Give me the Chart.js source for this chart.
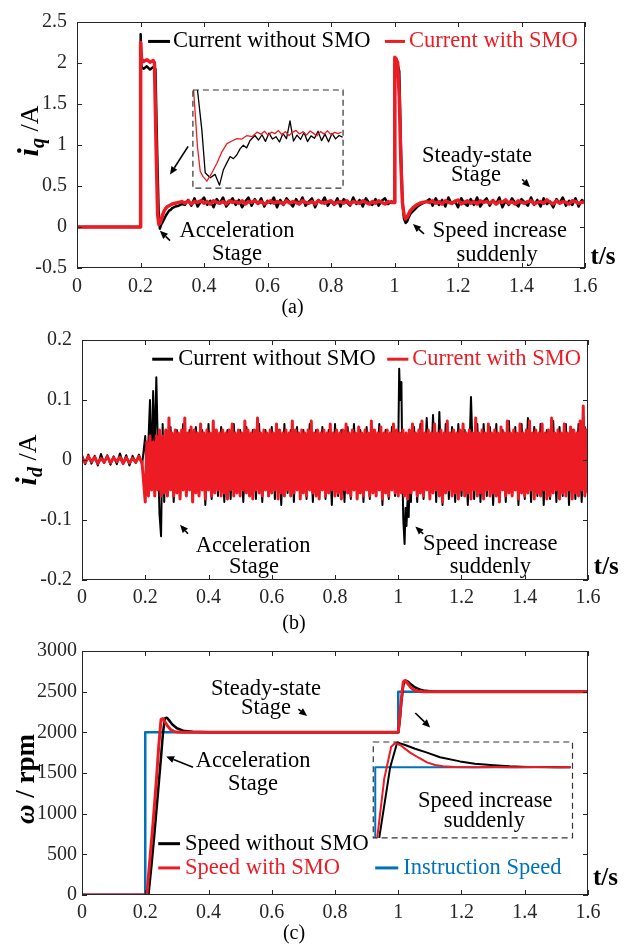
<!DOCTYPE html>
<html>
<head>
<meta charset="utf-8">
<title>iq, id and speed response with and without SMO</title>
<script src="https://cdn.jsdelivr.net/npm/chart.js@4.4.1/dist/chart.umd.min.js"></script>
<style>
  body { margin: 0; background: #fff; }
  #figure { position: relative; width: 627px; height: 944px; }
  canvas { position: absolute; left: 0; display: block; }
</style>
</head>
<body>
<div id="figure">
  <canvas id="iqChart" width="627" height="318" style="top:0"></canvas>
  <canvas id="idChart" width="627" height="316" style="top:318px"></canvas>
  <canvas id="speedChart" width="627" height="310" style="top:634px"></canvas>
</div>
<script>
// ---------- tick labels ----------
const timeTicks = [0, 0.2, 0.4, 0.6, 0.8, 1, 1.2, 1.4, 1.6];
const iqTicks = [-0.5, 0, 0.5, 1, 1.5, 2, 2.5];
const idTicks = [-0.2, -0.1, 0, 0.1, 0.2];
const speedTicks = [0, 500, 1000, 1500, 2000, 2500, 3000];

// ---------- (a) q-axis current ----------
// without SMO
const iqOffStartT = [0, 0.2, 0.2005, 0.203, 0.21, 0.22, 0.23, 0.24, 0.247, 0.252, 0.257, 0.261, 0.265, 0.27, 0.275, 0.28, 0.285, 0.29, 0.295, 0.3, 0.31, 0.32, 0.33, 0.34];
const iqOffStart = [0, 0, 2.35, 1.95, 1.93, 1.96, 1.92, 1.95, 1.93, 1.0, 0.2, -0.02, 0.03, 0.06, 0.1, 0.14, 0.17, 0.2, 0.21, 0.23, 0.25, 0.26, 0.28, 0.27];
const iqOffRun1 = [ // 0.35 .. 0.99 s, every 10 ms
  0.33, 0.26, 0.35, 0.25, 0.31, 0.36, 0.27, 0.32, 0.24, 0.34,
  0.29, 0.36, 0.25, 0.30, 0.35, 0.27, 0.33, 0.24, 0.31, 0.36,
  0.26, 0.34, 0.28, 0.35, 0.25, 0.32, 0.29, 0.36, 0.24, 0.33,
  0.27, 0.35, 0.30, 0.25, 0.34, 0.28, 0.36, 0.26, 0.31, 0.35,
  0.24, 0.33, 0.29, 0.36, 0.26, 0.32, 0.27, 0.35, 0.25, 0.34,
  0.30, 0.26, 0.36, 0.28, 0.33, 0.25, 0.35, 0.29, 0.27, 0.34,
  0.26, 0.32, 0.35, 0.28, 0.31];
const iqOffStepT = [1.0, 1.001, 1.005, 1.01, 1.015, 1.02, 1.025, 1.03, 1.035, 1.04, 1.045, 1.05, 1.06, 1.07, 1.08, 1.09, 1.1];
const iqOffStep = [0.3, 2.0, 2.02, 1.98, 1.9, 1.0, 0.3, 0.1, 0.05, 0.07, 0.12, 0.16, 0.2, 0.24, 0.27, 0.29, 0.31];
const iqOffRun2 = [ // 1.11 .. 1.60 s
  0.34, 0.26, 0.35, 0.27, 0.33, 0.25, 0.36, 0.28, 0.32, 0.24,
  0.35, 0.29, 0.26, 0.34, 0.27, 0.36, 0.25, 0.31, 0.35, 0.26,
  0.33, 0.28, 0.36, 0.24, 0.32, 0.27, 0.35, 0.29, 0.25, 0.34,
  0.30, 0.26, 0.36, 0.27, 0.33, 0.25, 0.35, 0.28, 0.31, 0.24,
  0.34, 0.29, 0.36, 0.26, 0.32, 0.27, 0.35, 0.25, 0.33, 0.30];
// with SMO
const iqOnStartT = [0, 0.2, 0.2005, 0.203, 0.21, 0.22, 0.23, 0.24, 0.244, 0.249, 0.254, 0.258, 0.262, 0.266, 0.27, 0.275, 0.28, 0.285, 0.29, 0.3, 0.31, 0.32];
const iqOnStart = [0, 0, 2.25, 2.05, 2.02, 2.04, 2.01, 2.03, 2.0, 1.0, 0.15, 0.03, 0.05, 0.1, 0.15, 0.2, 0.23, 0.25, 0.26, 0.28, 0.29, 0.3];
const iqOnRun1 = [ // 0.33 .. 0.99 s
  0.31, 0.29, 0.32, 0.28, 0.31, 0.30, 0.32, 0.29, 0.31, 0.28,
  0.32, 0.30, 0.29, 0.31, 0.28, 0.32, 0.30, 0.31, 0.29, 0.32,
  0.28, 0.31, 0.30, 0.32, 0.29, 0.31, 0.28, 0.30, 0.32, 0.29,
  0.31, 0.30, 0.28, 0.32, 0.29, 0.31, 0.30, 0.28, 0.32, 0.30,
  0.29, 0.31, 0.28, 0.32, 0.30, 0.29, 0.31, 0.32, 0.28, 0.30,
  0.31, 0.29, 0.32, 0.28, 0.31, 0.30, 0.29, 0.32, 0.30, 0.28,
  0.31, 0.29, 0.32, 0.30, 0.28, 0.31, 0.30];
const iqOnStepT = [1.0, 1.001, 1.005, 1.01, 1.015, 1.02, 1.025, 1.03, 1.035, 1.04, 1.045, 1.05, 1.06, 1.07, 1.08, 1.09, 1.1];
const iqOnStep = [0.3, 2.07, 2.05, 2.0, 1.6, 0.8, 0.3, 0.15, 0.1, 0.12, 0.16, 0.2, 0.24, 0.27, 0.29, 0.3, 0.31];
const iqOnRun2 = [ // 1.11 .. 1.60 s
  0.30, 0.32, 0.29, 0.31, 0.28, 0.32, 0.30, 0.29, 0.31, 0.33,
  0.28, 0.30, 0.32, 0.29, 0.31, 0.28, 0.32, 0.30, 0.31, 0.29,
  0.32, 0.28, 0.31, 0.30, 0.33, 0.29, 0.31, 0.28, 0.32, 0.30,
  0.29, 0.31, 0.32, 0.28, 0.30, 0.31, 0.29, 0.33, 0.30, 0.28,
  0.32, 0.29, 0.31, 0.30, 0.28, 0.32, 0.31, 0.29, 0.30, 0.31];
// zoomed view of the start-up dip (0.25 .. 0.40 s, 0 .. 0.5 A)
const iqZoomWin = { t: [0.25, 0.40], v: [0, 0.5] };
const iqZoomOnT = [0.2507, 0.2546, 0.2573, 0.26, 0.264, 0.269, 0.274, 0.279, 0.284, 0.289, 0.294, 0.299, 0.304, 0.309, 0.314];
const iqZoomOn = [0.5, 0.21, 0.086, 0.06, 0.036, 0.078, 0.127, 0.185, 0.227, 0.24, 0.252, 0.25, 0.268, 0.262, 0.285];
const iqZoomOnRun = [ // 0.318 .. 0.3985 s, every 3.5 ms
  0.275, 0.290, 0.270, 0.285, 0.278, 0.293, 0.272, 0.288, 0.268, 0.284, 0.294, 0.276,
  0.287, 0.270, 0.291, 0.279, 0.266, 0.288, 0.275, 0.292, 0.271, 0.284, 0.278, 0.286];
const iqZoomOffT = [0.2546, 0.259, 0.2623, 0.2673, 0.2722, 0.2766, 0.2805, 0.284, 0.2872, 0.2905, 0.2938, 0.2971, 0.3004, 0.3037, 0.3071, 0.312];
const iqZoomOff = [0.5, 0.293, 0.078, 0.053, 0.07, 0.015, 0.094, 0.13, 0.161, 0.15, 0.169, 0.2, 0.219, 0.205, 0.243, 0.268];
const iqZoomOffRun = [ // 0.3155 .. 0.3995 s
  0.245, 0.272, 0.238, 0.281, 0.250, 0.262, 0.235, 0.278, 0.252, 0.343, 0.240, 0.270, 0.248,
  0.283, 0.237, 0.266, 0.254, 0.290, 0.242, 0.275, 0.236, 0.279, 0.251, 0.268, 0.260];

// ---------- (b) d-axis current ----------
const idOffPre = [ // 0 .. 0.19 s
  0.008, -0.007, 0.009, -0.006, 0.007, -0.009, 0.010, -0.005, 0.008, -0.008,
  0.006, -0.007, 0.011, -0.006, 0.008, -0.009, 0.007, -0.005, 0.009, -0.008];
const idOffBurst1T = [0.2, 0.205, 0.21, 0.215, 0.22, 0.225, 0.23, 0.235, 0.24, 0.245, 0.25, 0.255, 0.26, 0.265];
const idOffBurst1 = [0.04, -0.05, 0.03, 0.10, -0.02, 0.115, 0.01, 0.138, 0.02, -0.09, -0.127, 0.06, -0.07, 0.05];
const idOffRun1 = [ // 0.27 .. 0.99 s
  -0.06, 0.055, -0.07, 0.05, -0.065, 0.06, -0.055, 0.05, -0.07, 0.055,
  -0.06, 0.05, -0.075, 0.06, -0.065, 0.05, -0.06, 0.055, -0.07, 0.05,
  -0.065, 0.06, -0.055, 0.05, -0.07, 0.055, -0.06, 0.05, -0.065, 0.06,
  -0.07, 0.05, -0.06, 0.055, -0.065, 0.05, -0.075, 0.06, -0.055, 0.05,
  -0.07, 0.055, -0.06, 0.05, -0.065, 0.06, -0.07, 0.05, -0.06, 0.055,
  -0.065, 0.05, -0.075, 0.06, -0.06, 0.05, -0.07, 0.055, -0.065, 0.06,
  -0.06, 0.05, -0.07, 0.055, -0.065, 0.05, -0.06, 0.06, -0.075, 0.05,
  -0.065, 0.055, -0.06];
const idOffBurst2T = [1.0, 1.003, 1.006, 1.01, 1.013, 1.016, 1.02, 1.023, 1.026, 1.03, 1.033, 1.036, 1.04];
const idOffBurst2 = [0.02, 0.152, 0.10, 0.13, -0.02, -0.10, -0.14, -0.08, -0.11, -0.06, -0.095, -0.03, -0.07];
const idOffRun2 = [ // 1.05 .. 1.60 s
  0.055, -0.07, 0.06, -0.065, 0.07, -0.06, 0.075, -0.07, 0.08, -0.075,
  0.06, -0.065, 0.055, -0.07, 0.06, -0.06, 0.05, -0.075, 0.105, -0.065,
  0.06, -0.07, 0.06, -0.06, 0.055, -0.075, 0.06, -0.065, 0.05, -0.07,
  0.065, -0.06, 0.055, -0.075, 0.06, -0.065, 0.07, -0.07, 0.055, -0.06,
  0.06, -0.075, 0.05, -0.065, 0.065, -0.07, 0.055, -0.06, 0.06, -0.075,
  0.05, -0.065, 0.06, -0.07, 0.055, -0.06];
const idOnPre = [ // 0 .. 0.19 s
  0.004, -0.005, 0.006, -0.003, 0.005, -0.006, 0.003, -0.004, 0.006, -0.005,
  0.004, -0.003, 0.005, -0.006, 0.004, -0.005, 0.003, -0.004, 0.006, -0.005];
const idOnRun = [ // 0.2 .. 1.6 s, every 5 ms
  -0.07, 0.03, -0.06, 0.04, -0.05, 0.03, -0.06, 0.04, -0.05, 0.05, -0.06, 0.04, -0.055, 0.05, -0.06, 0.07, -0.05, 0.045, -0.06, 0.05,
  -0.055, 0.045, -0.065, 0.05, -0.05, 0.07, -0.06, 0.045, -0.05, 0.055, -0.07, 0.05, -0.055, 0.045, -0.06, 0.06, -0.05, 0.045, -0.065, 0.05,
  -0.05, 0.045, -0.06, 0.065, -0.055, 0.05, -0.05, 0.045, -0.06, 0.05, -0.055, 0.045, -0.065, 0.05, -0.05, 0.06, -0.06, 0.045, -0.055, 0.05,
  -0.06, 0.045, -0.05, 0.065, -0.055, 0.05, -0.06, 0.045, -0.065, 0.05, -0.05, 0.07, -0.055, 0.045, -0.06, 0.05, -0.05, 0.045, -0.06, 0.05,
  -0.055, 0.045, -0.05, 0.06, -0.065, 0.05, -0.055, 0.045, -0.06, 0.05, -0.05, 0.045, -0.06, 0.065, -0.055, 0.05, -0.05, 0.045, -0.065, 0.05,
  -0.055, 0.045, -0.06, 0.05, -0.05, 0.065, -0.055, 0.045, -0.06, 0.05, -0.065, 0.045, -0.05, 0.05, -0.06, 0.045, -0.055, 0.06, -0.05, 0.045,
  -0.06, 0.05, -0.055, 0.045, -0.065, 0.05, -0.05, 0.06, -0.055, 0.045, -0.06, 0.05, -0.05, 0.045, -0.065, 0.055, -0.055, 0.045, -0.06, 0.05,
  -0.05, 0.045, -0.06, 0.065, -0.055, 0.05, -0.06, 0.045, -0.05, 0.055, -0.065, 0.045, -0.055, 0.05, -0.06, 0.045, -0.05, 0.06, -0.055, 0.05,
  -0.06, 0.045, -0.055, 0.05, -0.06, 0.045, -0.065, 0.05, -0.055, 0.06, -0.05, 0.045, -0.06, 0.05, -0.055, 0.065, -0.06, 0.045, -0.05, 0.05,
  -0.065, 0.045, -0.055, 0.06, -0.05, 0.045, -0.06, 0.05, -0.07, 0.045, -0.055, 0.065, -0.05, 0.045, -0.06, 0.05, -0.055, 0.045, -0.065, 0.05,
  -0.05, 0.06, -0.06, 0.045, -0.055, 0.05, -0.065, 0.045, -0.05, 0.07, -0.06, 0.045, -0.055, 0.05, -0.065, 0.045, -0.05, 0.06, -0.06, 0.045,
  -0.055, 0.05, -0.06, 0.045, -0.07, 0.055, -0.05, 0.045, -0.06, 0.065, -0.055, 0.045, -0.06, 0.05, -0.05, 0.045, -0.065, 0.06, -0.055, 0.045,
  -0.06, 0.05, -0.055, 0.065, -0.05, 0.045, -0.065, 0.05, -0.055, 0.045, -0.06, 0.06, -0.05, 0.045, -0.065, 0.05, -0.06, 0.07, -0.055, 0.045,
  -0.05, 0.05, -0.065, 0.045, -0.055, 0.06, -0.06, 0.045, -0.05, 0.055, -0.065, 0.05, -0.055, 0.045, -0.06, 0.065, -0.05, 0.09, -0.06, 0.05,
  -0.055];

// ---------- (c) speed ----------
const refSpeedT = [0, 0.2, 0.2, 1.0, 1.0, 1.6];
const refSpeed = [0, 0, 2000, 2000, 2500, 2500];
const speedOffT = [0, 0.21, 0.22, 0.23, 0.24, 0.25, 0.256, 0.262, 0.268, 0.275, 0.285, 0.3, 0.32, 0.35, 0.4, 1.0, 1.005, 1.01, 1.016, 1.022, 1.03, 1.04, 1.05, 1.06, 1.07, 1.08, 1.1, 1.13, 1.6];
const speedOff = [0, 0, 380, 800, 1250, 1700, 1990, 2170, 2180, 2150, 2100, 2050, 2020, 2008, 2000, 2000, 2150, 2380, 2580, 2635, 2625, 2590, 2560, 2540, 2525, 2515, 2505, 2500, 2500];
const speedOnT = [0, 0.205, 0.215, 0.225, 0.235, 0.243, 0.25, 0.256, 0.262, 0.27, 0.28, 0.29, 0.3, 0.32, 1.0, 1.005, 1.01, 1.016, 1.022, 1.03, 1.04, 1.05, 1.06, 1.08, 1.6];
const speedOn = [0, 0, 450, 900, 1400, 1850, 2160, 2170, 2130, 2080, 2035, 2012, 2003, 2000, 2000, 2200, 2420, 2620, 2640, 2600, 2550, 2520, 2507, 2500, 2500];
// zoomed view of the 2000 -> 2500 rpm step (0.998 .. 1.198 s, 2000 .. 2678 rpm)
const speedZoomWin = { t: [0.998, 1.198], v: [2000, 2678] };
const speedZoomRefT = [1.0, 1.0, 1.196];
const speedZoomRef = [2000, 2500, 2500];
const speedZoomOnT = [1.002, 1.009, 1.016, 1.02, 1.025, 1.035, 1.044, 1.052, 1.06, 1.068, 1.08, 1.1, 1.12, 1.14, 1.16, 1.18, 1.196];
const speedZoomOn = [2000, 2418, 2644, 2671, 2657, 2603, 2565, 2534, 2515, 2507, 2502, 2500, 2501, 2499, 2501, 2500, 2501];
const speedZoomOffT = [1.004, 1.015, 1.022, 1.03, 1.04, 1.052, 1.065, 1.085, 1.1, 1.119, 1.135, 1.153, 1.17, 1.185, 1.196];
const speedZoomOff = [2000, 2500, 2675, 2657, 2630, 2603, 2570, 2541, 2525, 2514, 2506, 2501, 2502, 2500, 2500];

// ---------- styling ----------
const SERIF = "'Liberation Serif', 'Times New Roman', serif";
const RED = '#ed1c24';
const BLACK = '#000000';
const BLUE = '#0072bd';
const AXIS = '#262626';

function pts(times, vals) {
  return times.map((t, i) => ({ x: t, y: vals[i] }));
}
function run(t0, dt, vals) {
  return vals.map((v, i) => ({ x: +(t0 + i * dt).toFixed(4), y: v }));
}
function line(data, color, width, order, xId, yId) {
  return {
    data, borderColor: color, borderWidth: width, pointRadius: 0, tension: 0,
    borderJoinStyle: 'round', fill: false, order,
    xAxisID: xId || 'x', yAxisID: yId || 'y'
  };
}
// hidden scale range that puts a zoom window inside its frame on the main axes
function insetRange(box, win, lo, hi) {
  const k = (win[1] - win[0]) / (box[1] - box[0]);
  return { type: 'linear', display: false, min: win[0] - (box[0] - lo) * k, max: win[0] + (hi - box[0]) * k };
}

function drawArrow(ctx, x0, y0, x1, y1) {
  const ang = Math.atan2(y1 - y0, x1 - x0), len = 8, half = 3.5;
  const bx = x1 - len * Math.cos(ang), by = y1 - len * Math.sin(ang);
  ctx.strokeStyle = '#000';
  ctx.lineWidth = 1.6;
  ctx.beginPath(); ctx.moveTo(x0, y0); ctx.lineTo(bx, by); ctx.stroke();
  ctx.fillStyle = '#000';
  ctx.beginPath();
  ctx.moveTo(x1, y1);
  ctx.lineTo(bx + half * Math.sin(ang), by - half * Math.cos(ang));
  ctx.lineTo(bx - half * Math.sin(ang), by + half * Math.cos(ang));
  ctx.closePath(); ctx.fill();
}

function drawYTitle(ctx, t) {
  ctx.save();
  ctx.translate(t.x, t.cy);
  ctx.rotate(-Math.PI / 2);
  ctx.textAlign = 'left';
  ctx.textBaseline = 'alphabetic';
  ctx.fillStyle = '#000';
  let total = 0;
  t.parts.forEach(p => { ctx.font = p.font; total += ctx.measureText(p.text).width; });
  let x = -total / 2;
  t.parts.forEach(p => {
    ctx.font = p.font;
    ctx.fillText(p.text, x, p.dy || 0);
    x += ctx.measureText(p.text).width;
  });
  ctx.restore();
}

// axes box, inward ticks, zoom frame, notes, legend and axis titles
function figureMarks(spec) {
  return {
    id: 'figureMarks',
    afterDatasetsDraw(chart) {
      const { ctx, chartArea: area, scales } = chart;
      ctx.save();
      ctx.strokeStyle = AXIS;
      ctx.lineWidth = 1;
      ctx.beginPath();
      scales.x.ticks.forEach(t => {
        const px = Math.round(scales.x.getPixelForValue(t.value)) + 0.5;
        ctx.moveTo(px, area.bottom); ctx.lineTo(px, area.bottom - 5);
        ctx.moveTo(px, area.top); ctx.lineTo(px, area.top + 5);
      });
      scales.y.ticks.forEach(t => {
        const py = Math.round(scales.y.getPixelForValue(t.value)) + 0.5;
        ctx.moveTo(area.left, py); ctx.lineTo(area.left + 5, py);
        ctx.moveTo(area.right, py); ctx.lineTo(area.right - 5, py);
      });
      ctx.stroke();
      ctx.strokeRect(area.left + 0.5, area.top + 0.5, area.width - 1, area.height - 1);
      if (spec.zoom) {
        const xi = scales.xi, yi = scales.yi, w = spec.zoom;
        const x0 = xi.getPixelForValue(w.t[0]), x1 = xi.getPixelForValue(w.t[1]);
        const y0 = yi.getPixelForValue(w.v[0]), y1 = yi.getPixelForValue(w.v[1]);
        ctx.setLineDash([6, 4]);
        ctx.lineWidth = 1.2;
        ctx.strokeStyle = '#333';
        ctx.strokeRect(x0, y1, x1 - x0, y0 - y1);
      }
      ctx.restore();
    },
    afterDraw(chart) {
      const { ctx, scales } = chart;
      const X = v => scales.x.getPixelForValue(v);
      const Y = v => scales.y.getPixelForValue(v);
      ctx.save();
      ctx.textBaseline = 'middle';
      ctx.textAlign = 'center';
      ctx.fillStyle = '#000';
      ctx.font = `22.5px ${SERIF}`;
      spec.notes.forEach(n => ctx.fillText(n.text, X(n.x), Y(n.y)));
      spec.arrows.forEach(a => drawArrow(ctx, X(a.from[0]), Y(a.from[1]), X(a.to[0]), Y(a.to[1])));
      ctx.textAlign = 'left';
      spec.legend.forEach(l => {
        ctx.strokeStyle = l.color;
        ctx.lineWidth = 3;
        ctx.beginPath(); ctx.moveTo(X(l.x0), Y(l.y)); ctx.lineTo(X(l.x1), Y(l.y)); ctx.stroke();
        ctx.fillStyle = l.color;
        ctx.fillText(l.label, X(l.tx), Y(l.y));
      });
      ctx.font = `bold 25px ${SERIF}`;
      ctx.fillStyle = '#000';
      ctx.textAlign = 'center';
      ctx.fillText('t/s', X(spec.unit.x), Y(spec.unit.y));
      drawYTitle(ctx, spec.yTitle);
      ctx.restore();
    }
  };
}

function buildChart(id, cfg) {
  const yt = cfg.yTicks;
  return new Chart(document.getElementById(id), {
    type: 'line',
    data: { datasets: cfg.datasets },
    options: {
      responsive: false,
      animation: false,
      devicePixelRatio: 1,
      layout: { padding: { left: 0, right: cfg.padRight, top: cfg.padTop, bottom: 0 } },
      plugins: {
        legend: { display: false },
        tooltip: { enabled: false },
        title: {
          display: true, position: 'bottom', text: cfg.caption, color: '#000',
          font: { family: SERIF, size: 20, weight: 'normal', lineHeight: 1 }, padding: 0
        }
      },
      scales: Object.assign({
        x: {
          type: 'linear', min: 0, max: 1.6,
          afterBuildTicks: s => { s.ticks = timeTicks.map(v => ({ value: v })); },
          afterFit: s => { s.height = cfg.xHeight; },
          grid: { display: false, drawTicks: false },
          border: { display: false },
          ticks: { padding: cfg.xPad, color: AXIS, font: { family: SERIF, size: 20 }, maxRotation: 0, autoSkip: false, callback: v => String(v) }
        },
        y: {
          type: 'linear', min: yt[0], max: yt[yt.length - 1],
          afterBuildTicks: s => { s.ticks = yt.map(v => ({ value: v })); },
          afterFit: s => { s.width = cfg.yWidth; },
          grid: { display: false, drawTicks: false },
          border: { display: false },
          ticks: { padding: cfg.yPad, color: AXIS, font: { family: SERIF, size: 20 }, autoSkip: false, callback: v => String(v) }
        }
      }, cfg.extraScales || {})
    },
    plugins: [figureMarks(cfg.marks)]
  });
}

// (a)
const iqZoomBox = { x: [0.365, 0.838], y: [0.474, 1.671] };
buildChart('iqChart', {
  caption: '(a)', padTop: 15, padRight: 42, xHeight: 30, yWidth: 77, xPad: 7, yPad: 10,
  yTicks: iqTicks,
  extraScales: {
    xi: insetRange(iqZoomBox.x, iqZoomWin.t, 0, 1.6),
    yi: insetRange(iqZoomBox.y, iqZoomWin.v, -0.5, 2.5)
  },
  datasets: [
    line([...pts(iqOnStartT, iqOnStart), ...run(0.33, 0.01, iqOnRun1), ...pts(iqOnStepT, iqOnStep), ...run(1.11, 0.01, iqOnRun2)], RED, 3.5, 0),
    line([...pts(iqOffStartT, iqOffStart), ...run(0.35, 0.01, iqOffRun1), ...pts(iqOffStepT, iqOffStep), ...run(1.11, 0.01, iqOffRun2)], BLACK, 2.5, 1),
    line([...pts(iqZoomOnT, iqZoomOn), ...run(0.318, 0.0035, iqZoomOnRun)], RED, 1.3, 0, 'xi', 'yi'),
    line([...pts(iqZoomOffT, iqZoomOff), ...run(0.3155, 0.0035, iqZoomOffRun)], BLACK, 1.3, 1, 'xi', 'yi')
  ],
  marks: {
    zoom: iqZoomWin,
    notes: [
      { x: 0.504, y: -0.047, text: 'Acceleration' }, { x: 0.504, y: -0.332, text: 'Stage' },
      { x: 1.26, y: 0.865, text: 'Steady-state' }, { x: 1.257, y: 0.628, text: 'Stage' },
      { x: 1.332, y: -0.047, text: 'Speed increase' }, { x: 1.323, y: -0.344, text: 'suddenly' }
    ],
    arrows: [
      { from: [0.293, -0.166], to: [0.261, -0.047] },
      { from: [0.35, 0.983], to: [0.293, 0.64] },
      { from: [1.402, 0.581], to: [1.427, 0.486] },
      { from: [1.093, -0.083], to: [1.058, 0.036] }
    ],
    legend: [
      { x0: 0.224, x1: 0.293, tx: 0.302, y: 2.263, color: BLACK, label: 'Current without SMO' },
      { x0: 0.97, x1: 1.033, tx: 1.046, y: 2.263, color: RED, label: 'Current with SMO' }
    ],
    unit: { x: 1.657, y: -0.367 },
    yTitle: {
      x: 38, cy: 131, parts: [
        { text: 'i', font: `italic bold 30px ${SERIF}` },
        { text: 'q', font: `italic bold 20px ${SERIF}`, dy: 6 },
        { text: ' /A', font: `26px ${SERIF}` }
      ]
    }
  }
});

// (b)
buildChart('idChart', {
  caption: '(b)', padTop: 14, padRight: 39, xHeight: 34, yWidth: 82, xPad: 6, yPad: 10,
  yTicks: idTicks,
  datasets: [
    line([...run(0, 0.01, idOnPre), ...run(0.2, 0.005, idOnRun)], RED, 3, 0),
    line([...run(0, 0.01, idOffPre), ...pts(idOffBurst1T, idOffBurst1), ...run(0.27, 0.01, idOffRun1),
          ...pts(idOffBurst2T, idOffBurst2), ...run(1.05, 0.01, idOffRun2)], BLACK, 2, 1)
  ],
  marks: {
    notes: [
      { x: 0.541, y: -0.1435, text: 'Acceleration' }, { x: 0.544, y: -0.179, text: 'Stage' },
      { x: 1.291, y: -0.14, text: 'Speed increase' }, { x: 1.291, y: -0.179, text: 'suddenly' }
    ],
    arrows: [
      { from: [0.335, -0.123], to: [0.31, -0.108] },
      { from: [1.079, -0.123], to: [1.054, -0.111] }
    ],
    legend: [
      { x0: 0.222, x1: 0.288, tx: 0.304, y: 0.168, color: BLACK, label: 'Current without SMO' },
      { x0: 0.965, x1: 1.032, tx: 1.044, y: 0.168, color: RED, label: 'Current with SMO' }
    ],
    unit: { x: 1.658, y: -0.179 },
    yTitle: {
      x: 36, cy: 142, parts: [
        { text: 'i', font: `italic bold 30px ${SERIF}` },
        { text: 'd', font: `italic bold 20px ${SERIF}`, dy: 6 },
        { text: ' /A', font: `26px ${SERIF}` }
      ]
    }
  }
});

// (c)
const speedZoomBox = { x: [0.921, 1.551], y: [702, 1881] };
buildChart('speedChart', {
  caption: '(c)', padTop: 9, padRight: 39, xHeight: 29, yWidth: 82, xPad: 6, yPad: 5,
  yTicks: speedTicks,
  extraScales: {
    xi: insetRange(speedZoomBox.x, speedZoomWin.t, 0, 1.6),
    yi: insetRange(speedZoomBox.y, speedZoomWin.v, 0, 3000)
  },
  datasets: [
    line(pts(speedOnT, speedOn), RED, 3, 0),
    line(pts(speedOffT, speedOff), BLACK, 2.5, 1),
    line(pts(refSpeedT, refSpeed), BLUE, 2.5, 2),
    line(pts(speedZoomOnT, speedZoomOn), RED, 2, 0, 'xi', 'yi'),
    line(pts(speedZoomOffT, speedZoomOff), BLACK, 2, 1, 'xi', 'yi'),
    line(pts(speedZoomRefT, speedZoomRef), BLUE, 2, 2, 'xi', 'yi')
  ],
  marks: {
    zoom: speedZoomWin,
    notes: [
      { x: 0.582, y: 2536, text: 'Steady-state' }, { x: 0.582, y: 2298, text: 'Stage' },
      { x: 0.541, y: 1643, text: 'Acceleration' }, { x: 0.541, y: 1369, text: 'Stage' },
      { x: 1.275, y: 1155, text: 'Speed increase' }, { x: 1.272, y: 905, text: 'suddenly' }
    ],
    arrows: [
      { from: [0.684, 2286], to: [0.712, 2202] },
      { from: [0.351, 1571], to: [0.266, 1702] },
      { from: [1.054, 2238], to: [1.101, 2060] }
    ],
    legend: [
      { x0: 0.241, x1: 0.31, tx: 0.326, y: 631, color: BLACK, label: 'Speed without SMO' },
      { x0: 0.241, x1: 0.31, tx: 0.326, y: 333, color: RED, label: 'Speed with SMO' },
      { x0: 0.927, x1: 1.0, tx: 1.016, y: 333, color: BLUE, label: 'Instruction Speed' }
    ],
    unit: { x: 1.655, y: 202 },
    yTitle: {
      x: 34, cy: 145, parts: [
        { text: 'ω', font: `italic bold 27px ${SERIF}` },
        { text: ' / rpm', font: `bold 27px ${SERIF}` }
      ]
    }
  }
});
</script>
</body>
</html>
